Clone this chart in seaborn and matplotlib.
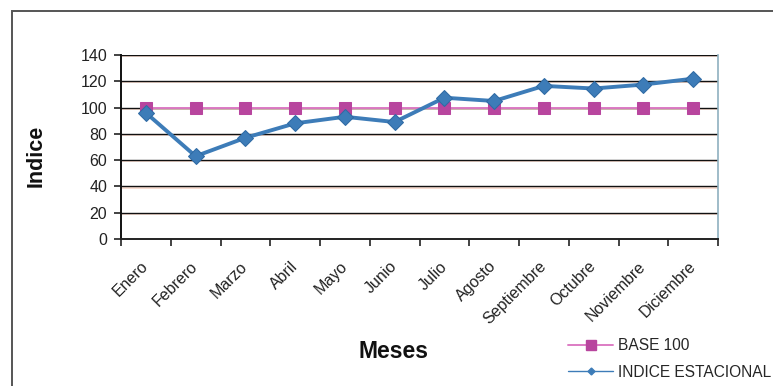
import matplotlib
matplotlib.use("Agg")
import matplotlib.pyplot as plt
from matplotlib.lines import Line2D
from matplotlib.patches import Rectangle
import seaborn as sns
import pandas as pd
import numpy as np

meses = ["Enero", "Febrero", "Marzo", "Abril", "Mayo", "Junio", "Julio",
         "Agosto", "Septiembre", "Octubre", "Noviembre", "Diciembre"]
base_100 = [100, 100, 100, 100, 100, 100, 100, 100, 100, 100, 100, 100]
indice_estacional = [96, 63, 77, 88, 93, 89, 107.5, 105, 116.5, 114.5, 117.5, 122]
y_ticks = [0, 20, 40, 60, 80, 100, 120, 140]

sns.set_theme(style="white")
plt.rcParams["font.family"] = ["Liberation Sans", "DejaVu Sans"]

W, H = 773, 386
fig = plt.figure(figsize=(W / 100, H / 100), dpi=100)
fig.patch.set_facecolor("white")

# plot area in pixel coordinates
left, right, top, bottom = 121, 718, 55, 239
ax = fig.add_axes([left / W, 1 - bottom / H, (right - left) / W, (bottom - top) / H])

df = pd.DataFrame({
    "pos": np.arange(len(meses)),
    "mes": meses,
    "BASE 100": base_100,
    "INDICE ESTACIONAL": indice_estacional,
})

# horizontal grid lines with a faint warm shadow
for v in y_ticks[1:]:
    ax.axhline(v - 0.9, color="#f6d6c8", lw=1.2, zorder=1)
    ax.axhline(v, color="#111111", lw=1.0, zorder=2)

sns.lineplot(data=df, x="pos", y="BASE 100", ax=ax, color="#dd7cc4", lw=1.4,
             marker="s", markersize=8.5, markerfacecolor="#b8459e",
             markeredgecolor="#b8459e", zorder=3)
sns.lineplot(data=df, x="pos", y="INDICE ESTACIONAL", ax=ax, color="#3d7cb8",
             lw=2.8, marker="D", markersize=8.5, markerfacecolor="#3d7cb8",
             markeredgecolor="#2f6aa4", zorder=4)

ax.set_xlim(-0.5, len(meses) - 0.5)
ax.set_ylim(0, 140)
ax.set_yticks(y_ticks)
ax.set_yticklabels([str(v) for v in y_ticks], fontsize=11.5, color="#222222")
ax.set_xticks(df["pos"])
ax.set_xticklabels(meses, rotation=45, ha="right", va="center",
                   rotation_mode="anchor", fontsize=11.5, color="#222222")
ax.set_xticks(np.arange(-0.5, len(meses)), minor=True)
ax.tick_params(axis="x", which="major", length=0, pad=18)
ax.tick_params(axis="x", which="minor", length=5, width=1.2, color="#222222",
               direction="out", bottom=True)
ax.tick_params(axis="y", length=5, width=1.2, color="#222222", direction="out",
               left=True, pad=5)

for side in ["top", "right", "bottom", "left"]:
    ax.spines[side].set_visible(False)
ax.spines["left"].set_visible(True)
ax.spines["left"].set_color("#111111")
ax.spines["left"].set_linewidth(1.4)
ax.spines["bottom"].set_visible(True)
ax.spines["bottom"].set_color("#222222")
ax.spines["bottom"].set_linewidth(1.4)
ax.spines["right"].set_visible(True)
ax.spines["right"].set_color("#8fb0c0")
ax.spines["right"].set_linewidth(1.2)

ax.set_xlabel("")
ax.set_ylabel("")
ax.grid(False)

fig.text(36 / W, 1 - 156 / H, "Indice", rotation=90, ha="center", va="center",
         fontsize=15.5, fontweight="bold", color="#111111")
fig.text(393 / W, 1 - 352 / H, "Meses", ha="center", va="center",
         fontsize=16.5, fontweight="bold", color="#111111")

# chart frame
fig.patches.append(Rectangle((12 / W, -0.1), 1.2, 1 - 11 / H + 0.1,
                             transform=fig.transFigure, fill=False,
                             edgecolor="#555555", lw=1.4))

handles = [
    Line2D([], [], color="#dd7cc4", lw=1.4, marker="s", markersize=7,
           markerfacecolor="#b8459e", markeredgecolor="#b8459e"),
    Line2D([], [], color="#3d7cb8", lw=1.0, marker="D", markersize=3.5,
           markerfacecolor="#3d7cb8", markeredgecolor="#3d7cb8"),
]
fig.legend(handles, ["BASE 100", "INDICE ESTACIONAL"], loc="center left",
           bbox_to_anchor=(568 / W, 1 - 359 / H), frameon=False, fontsize=11.2,
           handlelength=2.9, handletextpad=0.3, labelspacing=0.75,
           borderpad=0, borderaxespad=0)

fig.savefig("out.png", dpi=100, facecolor="white")
